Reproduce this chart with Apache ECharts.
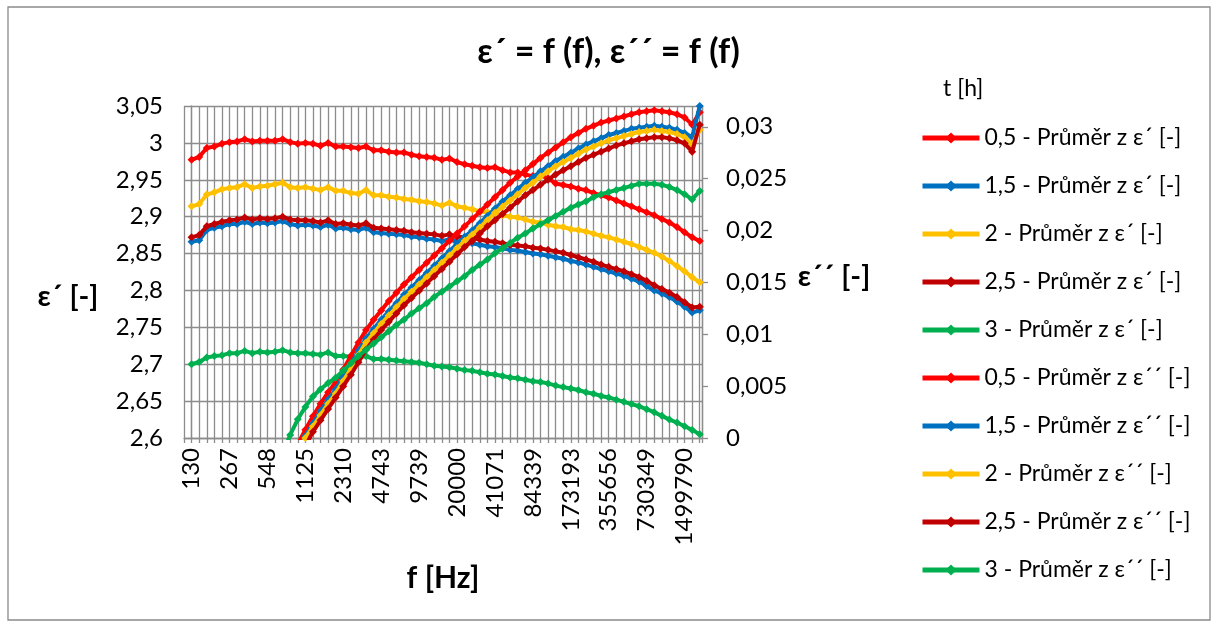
<!DOCTYPE html>
<html><head><meta charset="utf-8">
<script src="https://cdn.jsdelivr.net/npm/echarts@6/dist/echarts.min.js"></script>
<style>html,body{margin:0;padding:0;background:#fff}#c{width:1217px;height:626px}</style>
</head><body><div id="c"></div>
<script>
const freqLabels = [130,150,173,200,231,267,308,356,411,474,548,632,730,843,974,1125,1299,1500,1732,2000,2310,2667,3080,3557,4107,4743,5477,6325,7303,8434,9739,11247,12988,14998,17319,20000,23096,26670,30799,35566,41071,47427,54768,63246,73035,84339,97394,112468,129876,149979,173193,200000,230956,266704,307985,355656,410705,474275,547684,632456,730349,843393,973935,1124683,1298763,1499790,1731929,2000000];

const seriesNames = [
  "0,5 - Průměr z ε´ [-]","1,5 - Průměr z ε´ [-]","2 - Průměr z ε´ [-]","2,5 - Průměr z ε´ [-]","3 - Průměr z ε´ [-]",
  "0,5 - Průměr z ε´´ [-]","1,5 - Průměr z ε´´ [-]","2 - Průměr z ε´´ [-]","2,5 - Průměr z ε´´ [-]","3 - Průměr z ε´´ [-]"
];
const seriesColors = ["#FF0000","#0070C0","#FFC000","#C00000","#00B050","#FF0000","#0070C0","#FFC000","#C00000","#00B050"];

const eps1_05 = [2.977,2.981,2.993,2.995,2.999,3.001,3.002,3.005,3.002,3.003,3.003,3.003,3.005,3.001,2.999,3.0,2.999,2.996,3.0,2.995,2.995,2.994,2.993,2.995,2.99,2.99,2.988,2.987,2.987,2.984,2.982,2.981,2.98,2.977,2.979,2.974,2.971,2.969,2.967,2.966,2.967,2.963,2.96,2.96,2.957,2.955,2.956,2.952,2.945,2.943,2.941,2.938,2.936,2.932,2.929,2.926,2.922,2.918,2.914,2.91,2.906,2.902,2.897,2.892,2.886,2.879,2.872,2.867];
const eps1_15 = [2.866,2.868,2.882,2.885,2.887,2.89,2.89,2.893,2.89,2.892,2.891,2.892,2.894,2.89,2.888,2.889,2.888,2.886,2.889,2.884,2.885,2.883,2.882,2.885,2.879,2.878,2.877,2.876,2.875,2.873,2.872,2.87,2.869,2.867,2.869,2.866,2.865,2.864,2.862,2.86,2.859,2.857,2.855,2.854,2.852,2.85,2.849,2.847,2.845,2.843,2.84,2.838,2.835,2.832,2.829,2.826,2.823,2.82,2.816,2.812,2.806,2.8,2.796,2.791,2.785,2.778,2.77,2.773];
const eps1_2 = [2.914,2.917,2.93,2.933,2.937,2.939,2.94,2.944,2.939,2.941,2.942,2.944,2.946,2.94,2.939,2.94,2.938,2.936,2.94,2.935,2.935,2.932,2.931,2.936,2.929,2.929,2.927,2.926,2.924,2.923,2.921,2.92,2.918,2.915,2.919,2.914,2.912,2.91,2.907,2.906,2.905,2.902,2.9,2.899,2.896,2.893,2.892,2.889,2.887,2.886,2.883,2.882,2.88,2.877,2.874,2.872,2.869,2.866,2.863,2.859,2.855,2.851,2.846,2.84,2.833,2.826,2.818,2.811];
const eps1_25 = [2.872,2.875,2.887,2.89,2.893,2.895,2.896,2.899,2.896,2.898,2.897,2.898,2.9,2.896,2.895,2.895,2.894,2.892,2.895,2.89,2.891,2.889,2.888,2.891,2.885,2.884,2.883,2.882,2.881,2.879,2.878,2.877,2.876,2.874,2.876,2.873,2.872,2.871,2.869,2.867,2.866,2.864,2.862,2.861,2.86,2.858,2.857,2.855,2.853,2.851,2.848,2.845,2.842,2.839,2.835,2.832,2.829,2.826,2.822,2.818,2.813,2.807,2.802,2.797,2.791,2.784,2.777,2.778];
const eps1_3 = [2.7,2.703,2.709,2.711,2.712,2.715,2.715,2.718,2.715,2.717,2.716,2.717,2.719,2.716,2.715,2.715,2.714,2.713,2.716,2.711,2.711,2.71,2.709,2.711,2.707,2.707,2.706,2.705,2.704,2.703,2.702,2.7,2.698,2.697,2.696,2.694,2.692,2.691,2.689,2.687,2.686,2.684,2.682,2.681,2.679,2.677,2.676,2.674,2.671,2.669,2.667,2.665,2.662,2.66,2.657,2.655,2.652,2.649,2.646,2.643,2.639,2.635,2.63,2.625,2.621,2.616,2.611,2.605];

const eps2_05 = [null,null,null,null,null,null,null,null,null,null,null,null,null,null,-0.0006,0.0008,0.0021,0.0033,0.0044,0.0054,0.0066,0.0079,0.0092,0.0104,0.0114,0.0123,0.0132,0.014,0.0148,0.0155,0.0162,0.0169,0.0176,0.0183,0.019,0.0197,0.0204,0.0211,0.0218,0.0225,0.0232,0.0239,0.0246,0.0252,0.0258,0.0264,0.027,0.0275,0.028,0.0285,0.029,0.0294,0.0298,0.0301,0.0304,0.0306,0.0308,0.031,0.0312,0.0314,0.0315,0.0316,0.0315,0.0314,0.0312,0.0309,0.0302,0.0314];
const eps2_15 = [null,null,null,null,null,null,null,null,null,null,null,null,null,null,-0.0012,0.0002,0.0014,0.0026,0.0037,0.0047,0.0059,0.0071,0.0084,0.0096,0.0105,0.0114,0.0122,0.013,0.0138,0.0145,0.0152,0.0159,0.0166,0.0173,0.018,0.0187,0.0194,0.02,0.0207,0.0214,0.0221,0.0228,0.0234,0.024,0.0246,0.0251,0.0257,0.0262,0.0267,0.0271,0.0275,0.0279,0.0283,0.0286,0.0289,0.0292,0.0294,0.0296,0.0298,0.0299,0.03,0.0301,0.03,0.0299,0.0297,0.0294,0.029,0.032];
const eps2_2 = [null,null,null,null,null,null,null,null,null,null,null,null,null,null,-0.0016,0.0,0.0011,0.0022,0.0033,0.0043,0.0055,0.0067,0.008,0.0092,0.0101,0.011,0.0118,0.0126,0.0134,0.0141,0.0148,0.0155,0.0162,0.0169,0.0176,0.0183,0.019,0.0196,0.0203,0.021,0.0217,0.0223,0.0229,0.0235,0.0241,0.0246,0.0252,0.0257,0.0262,0.0266,0.027,0.0274,0.0278,0.0281,0.0284,0.0287,0.0289,0.0291,0.0293,0.0295,0.0296,0.0297,0.0296,0.0295,0.0293,0.029,0.0283,0.0297];
const eps2_25 = [null,null,null,null,null,null,null,null,null,null,null,null,null,null,-0.0022,-0.0008,0.0006,0.0017,0.0028,0.0039,0.005,0.0061,0.0073,0.0085,0.0095,0.0104,0.0112,0.012,0.0128,0.0135,0.0142,0.0149,0.0156,0.0163,0.017,0.0177,0.0184,0.019,0.0197,0.0204,0.021,0.0216,0.0222,0.0228,0.0234,0.0239,0.0244,0.0249,0.0254,0.0258,0.0262,0.0266,0.027,0.0273,0.0276,0.0279,0.0282,0.0284,0.0286,0.0288,0.0289,0.029,0.029,0.0289,0.0287,0.0284,0.0276,0.0302];
const eps2_3 = [null,null,null,null,null,null,null,null,null,null,null,null,-0.0015,0.0003,0.0018,0.003,0.004,0.0047,0.0053,0.0058,0.0065,0.0072,0.0079,0.0085,0.0091,0.0097,0.0103,0.0109,0.0114,0.012,0.0125,0.013,0.0136,0.0141,0.0146,0.0151,0.0156,0.0162,0.0167,0.0172,0.0178,0.0183,0.0188,0.0193,0.0197,0.0202,0.0206,0.021,0.0214,0.0218,0.0222,0.0225,0.0228,0.0232,0.0235,0.0237,0.0239,0.0241,0.0243,0.0245,0.0245,0.0245,0.0244,0.0242,0.0239,0.0235,0.023,0.0238];

const seriesData = [eps1_05, eps1_15, eps1_2, eps1_25, eps1_3, eps2_05, eps2_15, eps2_2, eps2_25, eps2_3];

const FONT = "Lato, 'Open Sans', 'Noto Sans', sans-serif";
const chart = echarts.init(document.getElementById('c'), null, {renderer:'canvas'});

const gridColor = '#8c8c8c';
const option = {
  backgroundColor: '#ffffff',
  animation: false,
  title: {
    text: 'ε´ = f (f), ε´´ = f (f)',
    left: 'center', top: 30,
    textStyle: {fontFamily: FONT, fontSize: 34, fontWeight: 'bold', color: '#000'}
  },
  grid: {left: 184, right: 515, top: 106, bottom: 188, containLabel: false},
  xAxis: {
    type: 'value', min: -1, max: 67.3, interval: 1,
    axisLine: {show: true, onZero: false, lineStyle: {color: gridColor, width: 1.3}},
    axisTick: {show: true, length: 5, lineStyle: {color: gridColor, width: 1.3}},
    splitLine: {show: true, lineStyle: {color: gridColor, width: 1.3}},
    axisLabel: {
      rotate: 90, margin: 10, fontFamily: FONT, fontSize: 24, color: '#000',
      showMinLabel: true, showMaxLabel: true,
      formatter: function (v) {
        const i = Math.round(v);
        if (Math.abs(v - i) < 1e-6 && i >= 0 && i <= 65 && i % 5 === 0) return String(freqLabels[i]);
        return '';
      }
    }
  },
  yAxis: [
    {
      type: 'value', min: 2.6, max: 3.05, interval: 0.05, position: 'left',
      axisLine: {show: true, lineStyle: {color: gridColor, width: 1.3}},
      axisTick: {show: false},
      splitLine: {show: true, lineStyle: {color: gridColor, width: 1.3}},
      axisLabel: {
        fontFamily: FONT, fontSize: 24, color: '#000', margin: 21,
        formatter: v => String(+v.toFixed(2)).replace('.', ',')
      }
    },
    {
      type: 'value', min: 0, max: 0.032, interval: 0.005, position: 'right',
      axisLine: {show: true, lineStyle: {color: gridColor, width: 1.3}},
      axisTick: {show: true, inside: false, length: 6, lineStyle: {color: gridColor, width: 1.3}},
      splitLine: {show: false},
      axisLabel: {
        fontFamily: FONT, fontSize: 24, color: '#000', margin: 24, showMaxLabel: false,
        formatter: v => String(+v.toFixed(3)).replace('.', ',')
      }
    }
  ],
  legend: {
    orient: 'vertical', left: 915, top: 121,
    itemWidth: 57, itemHeight: 14, itemGap: 24,
    lineStyle: {width: 5},
    textStyle: {fontFamily: FONT, fontSize: 23, color: '#000', lineHeight: 24},
    data: seriesNames
  },
  graphic: [
    {type: 'rect', shape: {x: 8, y: 7, width: 1202, height: 613}, style: {fill: 'none', stroke: '#8a8a8a', lineWidth: 1.3}, silent: true, z: -1},
    {type: 'text', left: 943, top: 77, style: {text: 't [h]', fontFamily: FONT, fontSize: 23, fill: '#000'}},
    {type: 'text', x: 68, y: 297, style: {text: 'ε´ [-]', fontFamily: FONT, fontSize: 29, fontWeight: 'bold', fill: '#000', align: 'center', verticalAlign: 'middle'}},
    {type: 'text', x: 834, y: 277, style: {text: 'ε´´ [-]', fontFamily: FONT, fontSize: 29, fontWeight: 'bold', fill: '#000', align: 'center', verticalAlign: 'middle'}},
    {type: 'text', x: 443, y: 578, style: {text: 'f [Hz]', fontFamily: FONT, fontSize: 30, fontWeight: 'bold', fill: '#000', align: 'center', verticalAlign: 'middle'}}
  ],
  series: seriesData.map((arr, s) => ({
    name: seriesNames[s],
    type: 'line',
    yAxisIndex: s < 5 ? 0 : 1,
    data: arr.map((v, i) => [i, v]),
    symbol: 'diamond', symbolSize: 8,
    lineStyle: {width: 4, color: seriesColors[s]},
    itemStyle: {color: seriesColors[s]},
    connectNulls: false,
    clip: true,
    z: 2 + s
  }))
};
chart.setOption(option);
</script></body></html>
